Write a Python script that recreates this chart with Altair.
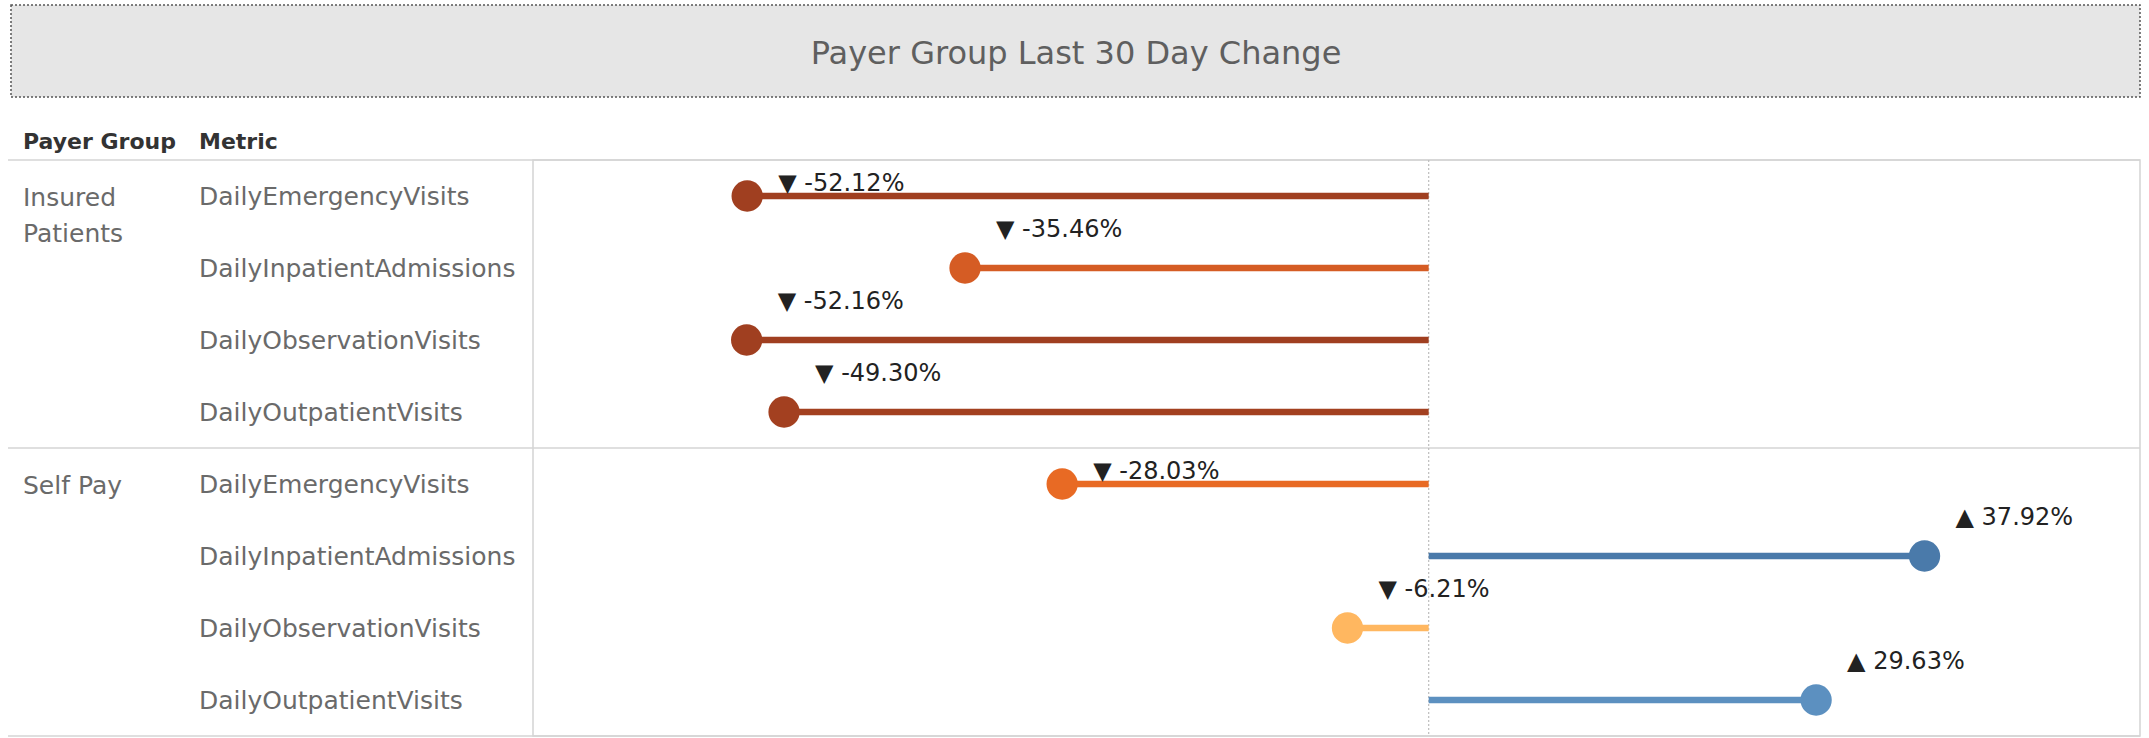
import altair as alt
import pandas as pd

# ---- data -------------------------------------------------------------
payer_groups = ["Insured Patients", "Self Pay"]
group_display = ["Insured\nPatients", "Self Pay"]
metrics = [
    "DailyEmergencyVisits",
    "DailyInpatientAdmissions",
    "DailyObservationVisits",
    "DailyOutpatientVisits",
]
insured_change = [-52.12, -35.46, -52.16, -49.30]
self_pay_change = [-28.03, 37.92, -6.21, 29.63]
header_labels = ["Payer Group", "Metric"]
chart_title = "Payer Group Last 30 Day Change"

rows = []
for gi, (grp, disp, vals) in enumerate(
    zip(payer_groups, group_display, [insured_change, self_pay_change])
):
    for mi, (met, val) in enumerate(zip(metrics, vals)):
        rows.append(
            {
                "group": grp,
                "group_label": disp,
                "metric": met,
                "change": val,
                "row": f"{grp} | {met}",
                "order": gi * len(metrics) + mi,
            }
        )
df = pd.DataFrame(rows)
row_order = list(df["row"])

# ---- layout -----------------------------------------------------------
W, H = 1607, 576
LEFT, TOP = 533, 160
FONT = "DejaVu Sans"

base = alt.Chart(df).transform_window(
    pos="row_number()", groupby=["group"], sort=[alt.SortField("order")]
).transform_calculate(zero="0")

band = alt.Scale(paddingInner=0, paddingOuter=0)
y_enc = alt.Y("row:N", sort=row_order, axis=None, scale=band)
x_scale = alt.Scale(domain=[-68.5, 54.4], nice=False, zero=False)
color_enc = alt.Color(
    "change:Q",
    legend=None,
    scale=alt.Scale(
        domain=[-50, -35.46, -28.03, -6.21, 29.63, 37.92],
        range=["#a03f20", "#d55c24", "#e86a24", "#ffb760", "#5c90c0", "#4a7aaa"],
        clamp=True,
    ),
)

one = alt.Chart(pd.DataFrame({"title": [chart_title]}))

# title banner
title_box = one.mark_rect(
    fill="#e6e6e6", stroke="#555555", strokeWidth=1.5, strokeDash=[2, 2]
).encode(
    x=alt.value(11 - LEFT), x2=alt.value(2140 - LEFT),
    y=alt.value(5 - TOP), y2=alt.value(97 - TOP),
)
title_text = one.mark_text(
    font=FONT, fontSize=32, color="#5f5f5f", align="center", baseline="middle"
).encode(x=alt.value(1076 - LEFT), y=alt.value(54 - TOP), text="title:N")

# column headers
hdr = alt.Chart(pd.DataFrame({"label": header_labels, "pos": [0, 1]}))
hdr_style = dict(font=FONT, fontSize=22, fontWeight="bold", color="#333333",
                 align="left", baseline="alphabetic")
header_group = hdr.transform_filter("datum.pos == 0").mark_text(**hdr_style).encode(
    x=alt.value(23 - LEFT), y=alt.value(149 - TOP), text="label:N"
)
header_metric = hdr.transform_filter("datum.pos == 1").mark_text(**hdr_style).encode(
    x=alt.value(199 - LEFT), y=alt.value(149 - TOP), text="label:N"
)

# table grid lines
grid_top = base.transform_filter("datum.pos == 1").mark_rule(
    color="#d4d4d4", strokeWidth=1.5
).encode(
    y=alt.Y("row:N", sort=row_order, axis=None, bandPosition=0, scale=band),
    x=alt.value(8 - LEFT), x2=alt.value(W),
)
grid_bottom = base.transform_filter("datum.order == %d" % (len(df) - 1)).mark_rule(
    color="#d4d4d4", strokeWidth=1.5
).encode(
    y=alt.Y("row:N", sort=row_order, axis=None, bandPosition=1, scale=band),
    x=alt.value(8 - LEFT), x2=alt.value(W),
)

# zero reference line
zero_line = base.transform_filter("datum.order == 0").mark_rule(
    color="#bdbdbd", strokeWidth=1.2, strokeDash=[2, 2]
).encode(
    x=alt.X("zero:Q", scale=x_scale, axis=None), y=alt.value(0), y2=alt.value(H)
)

# lollipops
stems = base.mark_rule(strokeWidth=6.5).encode(
    x=alt.X("zero:Q", scale=x_scale, axis=None), x2="change:Q", y=y_enc, color=color_enc
)
dots = base.mark_circle(size=980, opacity=1).encode(
    x=alt.X("change:Q", scale=x_scale, axis=None), y=y_enc, color=color_enc
)

label_expr = (
    "(datum.change < 0 ? '\u25bc -' : '\u25b2 ') + "
    "format(abs(datum.change), '.2f') + '%'"
)
value_text = dict(font=FONT, fontSize=24, color="#222222", align="left",
                  baseline="middle", dx=31)
labels_first = base.transform_filter("datum.pos == 1").transform_calculate(
    lbl=label_expr
).mark_text(dy=-12, **value_text).encode(
    x=alt.X("change:Q", scale=x_scale, axis=None), y=y_enc, text="lbl:N"
)
labels_rest = base.transform_filter("datum.pos > 1").transform_calculate(
    lbl=label_expr
).mark_text(dy=-38, **value_text).encode(
    x=alt.X("change:Q", scale=x_scale, axis=None), y=y_enc, text="lbl:N"
)

# row headers
metric_text = base.mark_text(
    font=FONT, fontSize=25, color="#6a6a6a", align="left", baseline="middle", dy=1
).encode(x=alt.value(199 - LEFT), y=y_enc, text="metric:N")
group_text = base.transform_filter("datum.pos == 1").mark_text(
    font=FONT, fontSize=25, color="#6a6a6a", align="left", baseline="top",
    lineBreak="\n", lineHeight=36, dy=-10,
).encode(x=alt.value(23 - LEFT), y=y_enc, text="group_label:N")

chart = alt.layer(
    title_box, title_text, header_group, header_metric,
    grid_top, grid_bottom, zero_line,
    stems, dots, labels_first, labels_rest,
    metric_text, group_text,
).properties(
    width=W,
    height=H,
    padding={"left": LEFT, "top": TOP, "right": 2149 - LEFT - W, "bottom": 738 - TOP - H},
    autosize=alt.AutoSizeParams(type="none"),
    background="white",
).configure_view(stroke="#d4d4d4", strokeWidth=1.5)

chart.save("out.html", embed_options={"renderer": "svg", "actions": False})
